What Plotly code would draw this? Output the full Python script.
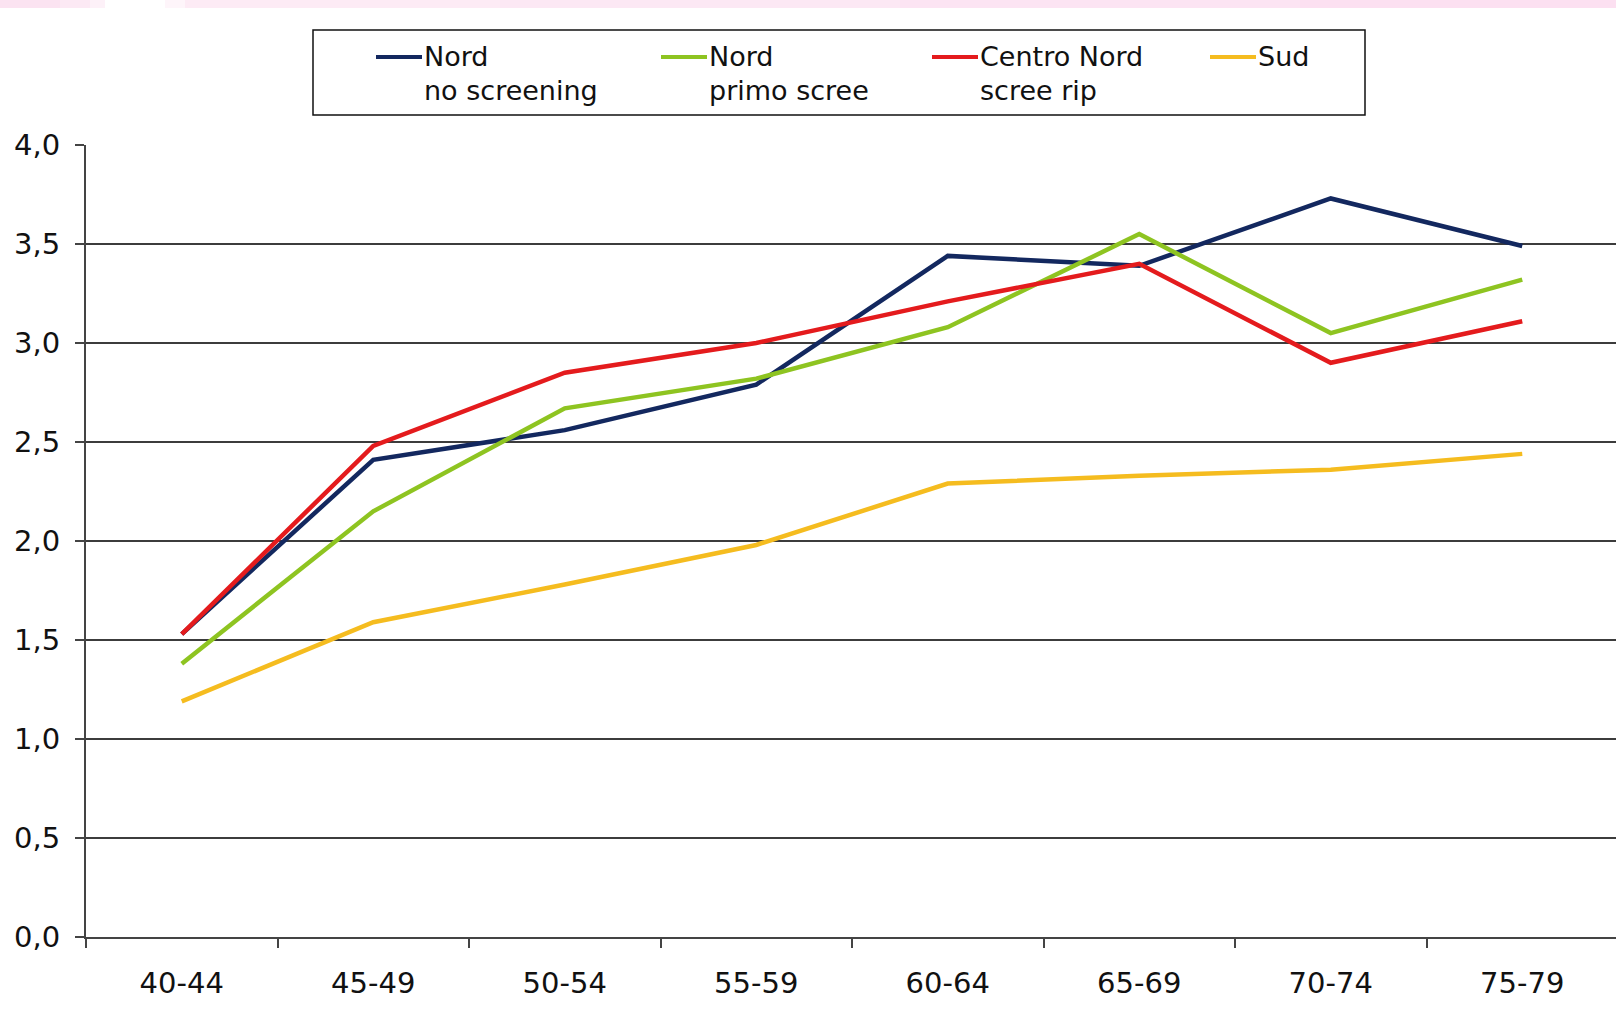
import plotly.graph_objects as go

# Age classes on the x axis
eta = ["40-44", "45-49", "50-54", "55-59", "60-64", "65-69", "70-74", "75-79"]

# Values per area / screening group
nord_no_screening = [1.53, 2.41, 2.56, 2.79, 3.44, 3.39, 3.73, 3.49]
nord_primo_scree = [1.38, 2.15, 2.67, 2.82, 3.08, 3.55, 3.05, 3.32]
centro_nord_scree_rip = [1.53, 2.48, 2.85, 3.00, 3.21, 3.40, 2.90, 3.11]
sud = [1.19, 1.59, 1.78, 1.98, 2.29, 2.33, 2.36, 2.44]

y_ticks = [0, 0.5, 1.0, 1.5, 2.0, 2.5, 3.0, 3.5, 4.0]

series = [
    ("Nord", "no screening", nord_no_screening, "#13285f"),
    ("Nord", "primo scree", nord_primo_scree, "#8ec421"),
    ("Centro Nord", "scree rip", centro_nord_scree_rip, "#e41b1d"),
    ("Sud", "", sud, "#f5bc1f"),
]

W, H = 1616, 1009
ML, MR, MT, MB = 86, 0, 145, 72
PW, PH = W - ML - MR, H - MT - MB
FONT = "DejaVu Sans"


def px_x(px):
    return (px - ML) / PW


def px_y(py):
    return (H - MB - py) / PH


fig = go.Figure()
for name, sub, vals, color in series:
    fig.add_trace(go.Scatter(
        x=eta, y=vals, mode="lines", name=name,
        line=dict(color=color, width=4.5),
        showlegend=False,
    ))

shapes = []

# thin pink band along the top edge
stops = [(0, "#fbe3f1"), (60, "#fce9f4"), (90, "#fdf1f8"), (105, "#ffffff"),
         (165, "#fef5fa"), (185, "#fdebf5"), (500, "#fce8f4"), (900, "#fce4f3"),
         (1300, "#fce0f1"), (1616, "#fcdcef")]
for (x0, c0), (x1, c1) in zip(stops[:-1], stops[1:]):
    shapes.append(dict(type="rect", xref="paper", yref="paper",
                       x0=px_x(x0), x1=px_x(x1), y0=px_y(8), y1=px_y(0),
                       fillcolor=c0, line=dict(width=0), layer="below"))

# legend frame
shapes.append(dict(type="rect", xref="paper", yref="paper",
                   x0=px_x(313), x1=px_x(1365), y0=px_y(115), y1=px_y(30),
                   fillcolor="white", line=dict(color="#111111", width=1.5)))

annotations = []
legend_x = [376, 661, 932, 1210]
for (name, sub, vals, color), lx in zip(series, legend_x):
    shapes.append(dict(type="line", xref="paper", yref="paper",
                       x0=px_x(lx), x1=px_x(lx + 46), y0=px_y(57), y1=px_y(57),
                       line=dict(color=color, width=4)))
    annotations.append(dict(text=name, xref="paper", yref="paper",
                            x=px_x(lx + 46), y=px_y(57), xanchor="left", yanchor="middle",
                            showarrow=False, font=dict(family=FONT, size=27, color="#111111")))
    if sub:
        annotations.append(dict(text=sub, xref="paper", yref="paper",
                                x=px_x(lx + 46), y=px_y(90), xanchor="left", yanchor="middle",
                                showarrow=False, font=dict(family=FONT, size=27, color="#111111")))

fig.update_layout(
    width=W, height=H,
    margin=dict(l=ML, r=MR, t=MT, b=MB, pad=0),
    paper_bgcolor="white", plot_bgcolor="white",
    separators=",.",
    font=dict(family=FONT, size=29, color="#111111"),
    shapes=shapes, annotations=annotations,
    showlegend=False,
    xaxis=dict(
        type="category", range=[-0.5, -0.5 + PW / 191.5],
        showgrid=False, zeroline=False,
        showline=True, linecolor="#444444", linewidth=2,
        ticks="outside", tickson="boundaries", ticklen=9, tickwidth=2, tickcolor="#444444",
        tickfont=dict(family=FONT, size=29, color="#111111"),
        ticklabelstandoff=19,
    ),
    yaxis=dict(
        range=[0, 4], tickvals=y_ticks, tickformat=".1f",
        showgrid=True, gridcolor="#3c3c3c", gridwidth=1.5,
        zeroline=False,
        showline=True, linecolor="#444444", linewidth=2,
        ticks="outside", ticklen=9, tickwidth=2, tickcolor="#444444",
        tickfont=dict(family=FONT, size=29, color="#111111"),
        ticklabelstandoff=9,
    ),
)

fig.write_html("out.html")
